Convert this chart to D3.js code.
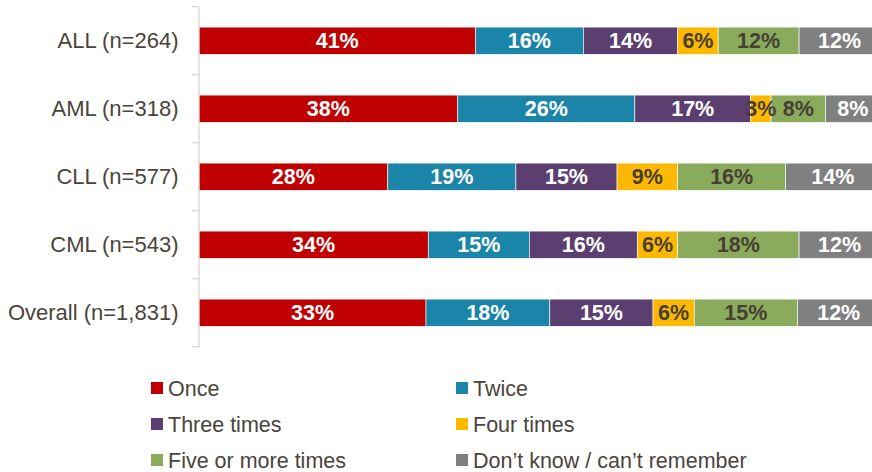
<!DOCTYPE html>
<html>
<head>
<meta charset="utf-8">
<script src="https://cdn.jsdelivr.net/npm/d3@7"></script>
<style>
  html, body { margin: 0; padding: 0; background: #fff; }
  svg { display: block; font-family: Arial, "Liberation Sans", sans-serif; }
</style>
</head>
<body>
<svg id="chart" width="872" height="472"></svg>
<script>
// Groups shown on the vertical axis
const categories = ["ALL (n=264)", "AML (n=318)", "CLL (n=577)", "CML (n=543)", "Overall (n=1,831)"];

// Answer options, in stacking order
const seriesNames = ["Once", "Twice", "Three times", "Four times", "Five or more times", "Don\u2019t know / can\u2019t remember"];
const seriesColors = ["#c00000", "#1a85a8", "#5b3f71", "#ffb800", "#89ab5b", "#808080"];
const labelColors = ["#ffffff", "#ffffff", "#ffffff", "#463f35", "#463f35", "#ffffff"];

// Percentages per answer option (one value per group, same order as categories)
const once      = [41, 38, 28, 34, 33];
const twice     = [16, 26, 19, 15, 18];
const three     = [14, 17, 15, 16, 15];
const four      = [6, 3, 9, 6, 6];
const fiveMore  = [12, 8, 16, 18, 15];
const dontKnow  = [12, 8, 14, 12, 12];

const seriesValues = [once, twice, three, four, fiveMore, dontKnow];

const svg = d3.select("#chart");

// Each row is shown as a 100% bar; the plot runs slightly past the right edge
const x = d3.scaleLinear().domain([0, 1]).range([199, 880]);
const y = d3.scaleBand()
  .domain(categories)
  .range([6.7, 346.7])
  .paddingInner(0.6)
  .paddingOuter(0.3);

// Build stacked rows, normalised per group
const rows = categories.map((c, i) => {
  const obj = { category: c };
  seriesNames.forEach((s, k) => { obj[s] = seriesValues[k][i]; });
  return obj;
});
const stacked = d3.stack().keys(seriesNames).offset(d3.stackOffsetExpand)(rows);

const plot = svg.append("g");

const layers = plot.selectAll("g.layer")
  .data(stacked)
  .join("g")
  .attr("class", "layer")
  .attr("fill", (d, k) => seriesColors[k]);

layers.selectAll("rect")
  .data(d => d)
  .join("rect")
  .attr("x", d => x(d[0]))
  .attr("y", d => y(d.data.category))
  .attr("width", d => x(d[1]) - x(d[0]))
  .attr("height", y.bandwidth())
  .attr("stroke", "#ffffff")
  .attr("stroke-width", 0.6);

// Value labels centred in each segment
stacked.forEach((layer, k) => {
  plot.append("g").selectAll("text")
    .data(layer)
    .join("text")
    .attr("x", d => (x(d[0]) + x(d[1])) / 2)
    .attr("y", d => y(d.data.category) + y.bandwidth() / 2)
    .attr("dy", "0.36em")
    .attr("text-anchor", "middle")
    .attr("font-size", "21.5px")
    .attr("font-weight", "bold")
    .attr("fill", labelColors[k])
    .text(d => d.data[layer.key] + "%");
});

// Left axis: category labels, no ticks at centres
const axis = svg.append("g")
  .attr("transform", "translate(198.5,0)")
  .call(d3.axisLeft(y).tickSize(0).tickPadding(20));
axis.select(".domain").attr("stroke", "#d9d3cc").attr("stroke-width", 1.2);
axis.selectAll(".tick text")
  .attr("font-size", "22px")
  .attr("font-family", "Arial, 'Liberation Sans', sans-serif")
  .attr("fill", "#4a443b");

// Tick marks at the boundaries between groups
const step = y.step();
const edges = categories.map(c => y(c) - step * y.paddingInner() / 2);
edges.push(y(categories[categories.length - 1]) + y.bandwidth() + step * y.paddingInner() / 2);
svg.append("g").selectAll("line")
  .data(edges)
  .join("line")
  .attr("x1", 192).attr("x2", 198.5)
  .attr("y1", d => d).attr("y2", d => d)
  .attr("stroke", "#d9d3cc")
  .attr("stroke-width", 1.2);

// Legend: two columns, three rows
const legendX = [151, 456];
const legendY = [388, 424, 460];
const legend = svg.append("g").selectAll("g")
  .data(seriesNames)
  .join("g")
  .attr("transform", (d, k) => `translate(${legendX[k % 2]},${legendY[Math.floor(k / 2)]})`);
legend.append("rect")
  .attr("x", 0).attr("y", -6)
  .attr("width", 12).attr("height", 12)
  .attr("fill", (d, k) => seriesColors[k]);
legend.append("text")
  .attr("x", 17)
  .attr("y", 0)
  .attr("dy", "0.36em")
  .attr("font-size", "21.5px")
  .attr("fill", "#4a443b")
  .text(d => d);
</script>
</body>
</html>
